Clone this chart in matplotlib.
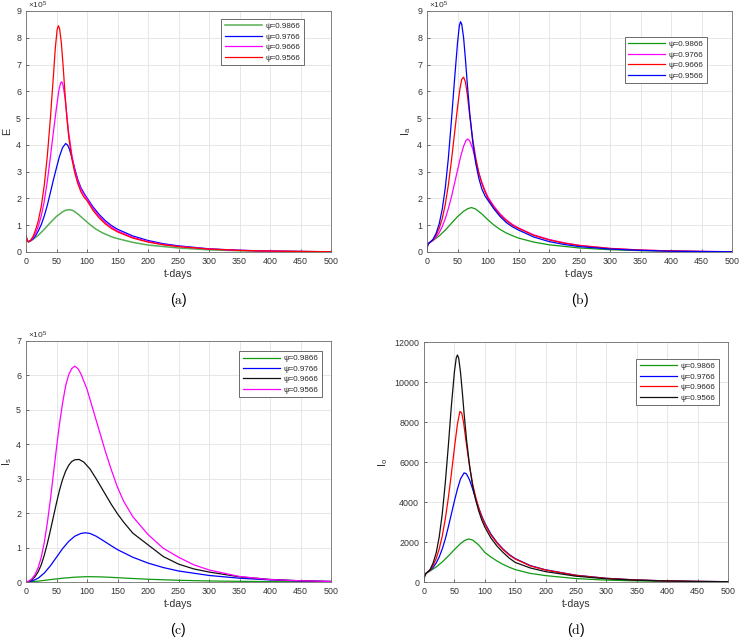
import numpy as np
import matplotlib
matplotlib.use('Agg')
import matplotlib.pyplot as plt

plt.rcParams['font.family'] = ['Liberation Sans', 'DejaVu Sans']
plt.rcParams['mathtext.default'] = 'regular'

psi_labels = ['ψ=0.9866', 'ψ=0.9766', 'ψ=0.9666', 'ψ=0.9566']

# (a) E, in units of 1e5
t_a_red = [0, 2, 4, 8, 12, 16, 20, 25, 30, 35, 40, 45, 48, 51, 53, 55, 58, 61, 64, 67, 70, 75, 80, 85, 90, 95, 100,
           110, 120, 130, 140, 150, 175, 200, 225, 250, 300, 350, 400, 450, 500]
e_red = [0.6, 0.42, 0.38, 0.45, 0.6, 0.85, 1.15, 1.7, 2.5, 3.6, 5.0, 6.6, 7.6, 8.3, 8.45, 8.35, 7.8, 6.9, 5.9, 5.0, 4.3,
         3.5, 2.95, 2.55, 2.25, 2.05, 1.92, 1.55, 1.27, 1.05, 0.88, 0.75, 0.52, 0.37, 0.27, 0.2, 0.11, 0.06, 0.035, 0.02, 0.01]
t_a_mag = [0, 2, 4, 8, 12, 16, 20, 25, 30, 35, 40, 45, 50, 54, 57, 59, 61, 64, 67, 70, 75, 80, 85, 90, 95, 100,
           110, 120, 130, 140, 150, 175, 200, 225, 250, 300, 350, 400, 450, 500]
e_mag = [0.6, 0.42, 0.38, 0.43, 0.55, 0.72, 0.95, 1.35, 1.9, 2.65, 3.55, 4.5, 5.4, 6.05, 6.33, 6.35, 6.2, 5.75, 5.1, 4.45,
         3.65, 3.05, 2.65, 2.35, 2.15, 1.98, 1.62, 1.33, 1.1, 0.93, 0.79, 0.55, 0.39, 0.28, 0.21, 0.11, 0.06, 0.035, 0.02, 0.01]
t_a_blue = [0, 2, 4, 8, 12, 16, 20, 25, 30, 35, 40, 45, 50, 55, 60, 65, 68, 71, 75, 80, 85, 90, 95, 100,
            110, 120, 130, 140, 150, 175, 200, 225, 250, 300, 350, 400, 450, 500]
e_blue = [0.6, 0.42, 0.38, 0.42, 0.5, 0.62, 0.78, 1.02, 1.35, 1.75, 2.22, 2.7, 3.15, 3.58, 3.9, 4.05, 4.0, 3.85, 3.55,
          3.1, 2.7, 2.4, 2.2, 2.02, 1.68, 1.4, 1.17, 0.99, 0.85, 0.6, 0.43, 0.31, 0.23, 0.12, 0.065, 0.035, 0.02, 0.01]
t_a_green = [0, 2, 4, 10, 20, 30, 40, 50, 60, 65, 71, 77, 85, 95, 105, 115, 125, 140, 150, 175, 200, 250, 300, 350, 400, 450, 500]
e_green = [0.6, 0.42, 0.38, 0.45, 0.62, 0.85, 1.1, 1.33, 1.5, 1.56, 1.58, 1.55, 1.42, 1.22, 1.02, 0.85, 0.72, 0.57, 0.5,
           0.36, 0.26, 0.15, 0.08, 0.045, 0.025, 0.015, 0.008]

# (b) Ia, in units of 1e5
t_b_blue = [0, 1, 3, 6, 10, 15, 20, 25, 30, 35, 40, 45, 50, 53, 55, 57, 60, 63, 66, 70, 75, 80, 85, 90, 95, 100,
            110, 120, 130, 140, 150, 175, 200, 225, 250, 300, 350, 400, 450, 500]
ia_blue = [0.1, 0.25, 0.33, 0.38, 0.48, 0.7, 1.05, 1.6, 2.4, 3.5, 4.9, 6.4, 7.8, 8.45, 8.6, 8.5, 8.0, 7.2, 6.3, 5.2, 4.1,
           3.3, 2.75, 2.35, 2.1, 1.93, 1.6, 1.32, 1.1, 0.94, 0.82, 0.56, 0.39, 0.28, 0.2, 0.11, 0.06, 0.03, 0.018, 0.01]
t_b_red = [0, 1, 3, 6, 10, 15, 20, 25, 30, 35, 40, 45, 50, 54, 57, 60, 63, 66, 70, 75, 80, 85, 90, 95, 100,
           110, 120, 130, 140, 150, 175, 200, 225, 250, 300, 350, 400, 450, 500]
ia_red = [0.1, 0.25, 0.33, 0.38, 0.46, 0.63, 0.88, 1.25, 1.78, 2.5, 3.4, 4.4, 5.4, 6.1, 6.45, 6.53, 6.35, 5.9, 5.1, 4.2,
          3.5, 2.95, 2.55, 2.25, 2.0, 1.65, 1.38, 1.17, 1.0, 0.88, 0.62, 0.45, 0.33, 0.24, 0.13, 0.07, 0.04, 0.02, 0.01]
t_b_mag = [0, 1, 3, 6, 10, 15, 20, 25, 30, 35, 40, 45, 50, 55, 60, 64, 67, 70, 75, 80, 85, 90, 95, 100,
           110, 120, 130, 140, 150, 175, 200, 225, 250, 300, 350, 400, 450, 500]
ia_mag = [0.1, 0.25, 0.33, 0.38, 0.44, 0.56, 0.72, 0.95, 1.25, 1.62, 2.05, 2.55, 3.05, 3.55, 3.95, 4.17, 4.22, 4.15, 3.85,
          3.4, 2.95, 2.6, 2.3, 2.05, 1.7, 1.42, 1.2, 1.03, 0.9, 0.64, 0.47, 0.34, 0.25, 0.135, 0.075, 0.04, 0.022, 0.012]
t_b_green = [0, 1, 3, 6, 10, 20, 30, 40, 50, 60, 67, 73, 80, 90, 100, 110, 120, 130, 140, 150, 175, 200, 250, 300, 350, 400, 450, 500]
ia_green = [0.1, 0.25, 0.33, 0.38, 0.43, 0.6, 0.82, 1.07, 1.32, 1.52, 1.62, 1.66, 1.6, 1.42, 1.2, 1.0, 0.84, 0.71, 0.61,
            0.52, 0.37, 0.27, 0.15, 0.085, 0.05, 0.028, 0.015, 0.008]

# (c) Is, in units of 1e5
t_c_mag = [0, 5, 10, 15, 20, 25, 30, 35, 40, 45, 50, 55, 60, 65, 70, 75, 80, 85, 90, 100, 110, 120, 130, 140, 150,
           160, 175, 200, 225, 250, 275, 300, 350, 400, 450, 500]
is_mag = [0, 0.03, 0.1, 0.22, 0.42, 0.72, 1.15, 1.72, 2.4, 3.15, 3.9, 4.6, 5.2, 5.7, 6.02, 6.2, 6.27, 6.2, 6.05, 5.6, 5.0,
          4.4, 3.8, 3.25, 2.75, 2.35, 1.9, 1.38, 0.98, 0.72, 0.5, 0.35, 0.16, 0.07, 0.035, 0.015]
t_c_black = [0, 5, 10, 15, 20, 25, 30, 35, 40, 45, 50, 55, 60, 65, 70, 75, 80, 87, 95, 105, 115, 125, 140, 150, 160,
             175, 200, 225, 250, 275, 300, 350, 400, 450, 500]
is_black = [0, 0.02, 0.07, 0.16, 0.3, 0.5, 0.78, 1.12, 1.5, 1.9, 2.3, 2.67, 2.98, 3.22, 3.39, 3.5, 3.55, 3.56, 3.48, 3.28,
            3.0, 2.7, 2.25, 1.98, 1.74, 1.42, 1.08, 0.74, 0.52, 0.38, 0.29, 0.15, 0.075, 0.035, 0.015]
t_c_blue = [0, 10, 20, 30, 40, 50, 60, 70, 80, 90, 97, 105, 115, 125, 140, 150, 175, 200, 225, 250, 300, 350, 400, 450, 500]
is_blue = [0, 0.03, 0.11, 0.26, 0.47, 0.72, 0.97, 1.18, 1.33, 1.41, 1.43, 1.41, 1.33, 1.22, 1.05, 0.94, 0.72, 0.55, 0.42,
           0.32, 0.19, 0.11, 0.06, 0.03, 0.015]
t_c_green = [0, 20, 40, 60, 80, 100, 120, 140, 160, 200, 250, 300, 400, 500]
is_green = [0, 0.025, 0.07, 0.11, 0.14, 0.155, 0.15, 0.135, 0.115, 0.08, 0.05, 0.03, 0.01, 0.005]

# (d) Io
t_d_black = [0, 1, 3, 6, 10, 15, 20, 25, 30, 35, 40, 45, 50, 53, 55, 57, 60, 63, 66, 70, 75, 80, 85, 90, 95, 100,
             110, 120, 130, 140, 150, 175, 200, 250, 300, 350, 400, 450, 500]
io_black = [100, 300, 420, 500, 620, 950, 1450, 2250, 3400, 4950, 6800, 8800, 10500, 11200, 11350, 11200, 10500, 9500,
            8400, 7100, 5800, 4800, 4100, 3550, 3100, 2750, 2200, 1800, 1480, 1200, 980, 700, 520, 290, 160, 90, 50, 28, 15]
t_d_red = [0, 1, 3, 6, 10, 15, 20, 25, 30, 35, 40, 45, 50, 55, 59, 62, 65, 68, 72, 76, 80, 85, 90, 95, 100,
           110, 120, 130, 140, 150, 175, 200, 250, 300, 350, 400, 450, 500]
io_red = [100, 300, 420, 500, 600, 830, 1170, 1650, 2300, 3150, 4200, 5400, 6700, 7900, 8530, 8450, 8000, 7300, 6400,
          5600, 4900, 4250, 3700, 3250, 2900, 2350, 1950, 1620, 1350, 1150, 800, 600, 330, 180, 100, 55, 30, 16]
t_d_blue = [0, 1, 3, 6, 10, 15, 20, 25, 30, 35, 40, 45, 50, 55, 60, 66, 70, 75, 80, 85, 90, 95, 100,
            110, 120, 130, 140, 150, 175, 200, 250, 300, 350, 400, 450, 500]
io_blue = [100, 300, 420, 500, 580, 730, 950, 1250, 1650, 2150, 2750, 3400, 4050, 4650, 5150, 5460, 5400, 5100, 4650,
           4150, 3700, 3300, 2950, 2400, 1980, 1650, 1380, 1170, 820, 610, 340, 185, 100, 55, 30, 16]
t_d_green = [0, 1, 3, 6, 10, 20, 30, 40, 50, 60, 67, 73, 80, 90, 100, 110, 120, 130, 140, 150, 175, 200, 250, 300, 350, 400, 450, 500]
io_green = [100, 300, 420, 490, 550, 750, 1000, 1300, 1620, 1920, 2080, 2150, 2100, 1850, 1480, 1250, 1050, 880, 740,
            620, 430, 320, 170, 95, 55, 30, 17, 10]

GREEN = '#119a11'
W, H = 740, 639
fig = plt.figure(figsize=(7.4, 6.39), dpi=100)


def make_ax(x0, y0, x1, y1):
    # pixel box -> figure coords
    return fig.add_axes([x0 / W, 1 - y1 / H, (x1 - x0) / W, (y1 - y0) / H])


def style(ax, ymax, ystep, ylabel, caption, sci, ypad=3):
    ax.set_xlim(0, 500)
    ax.set_ylim(0, ymax)
    ax.set_xticks(np.arange(0, 501, 50))
    ax.set_yticks(np.arange(0, ymax + 1, ystep))
    ax.grid(True, color='#e3e3e3', linewidth=0.6)
    ax.set_axisbelow(True)
    ax.tick_params(direction='in', length=2.5, width=0.5, labelsize=6.4,
                   colors='#333333', pad=3.5)
    for s in ax.spines.values():
        s.set_color('#6e6e6e')
        s.set_linewidth(0.6)
    ax.set_xlabel('t-days', fontsize=7.6, color='#333333', labelpad=2.5)
    ax.set_ylabel(ylabel, fontsize=7.8, color='#333333', labelpad=ypad)
    if sci:
        ax.text(0.008, 1.0, r'$\times10^{5}$', transform=ax.transAxes,
                fontsize=6.0, color='#333333', va='bottom', ha='left')
    ax.text(0.5, -0.2, r'$(\mathrm{' + caption + '})$', transform=ax.transAxes,
            ha='center', va='center', fontsize=9.8, math_fontfamily='cm')


def legend(ax, right, top):
    lg = ax.legend(loc='upper right', bbox_to_anchor=(right, top), borderaxespad=0,
                   fontsize=5.8, handlelength=4.6, handletextpad=0.4,
                   labelspacing=0.35, borderpad=0.45, fancybox=False,
                   edgecolor='#555555', framealpha=1)
    lg.get_frame().set_linewidth(0.6)
    for txt in lg.get_texts():
        txt.set_color('#262626')


# (a)
ax = make_ax(26, 11, 331, 252)
ax.plot(t_a_green, e_green, color='#55b055', lw=1.1, label=psi_labels[0])
ax.plot(t_a_blue, e_blue, color='#0000ff', lw=0.9, label=psi_labels[1])
ax.plot(t_a_mag, e_mag, color='#ff00ff', lw=0.9, label=psi_labels[2])
ax.plot(t_a_red, e_red, color='#ff0000', lw=0.9, label=psi_labels[3])
style(ax, 9, 1, 'E', 'a', True)
legend(ax, 0.911, 0.967)

# (b)
ax = make_ax(427, 11, 732, 252)
ax.plot(t_b_green, ia_green, color=GREEN, lw=0.9, label=psi_labels[0])
ax.plot(t_b_mag, ia_mag, color='#ff00ff', lw=0.9, label=psi_labels[1])
ax.plot(t_b_red, ia_red, color='#ff0000', lw=0.9, label=psi_labels[2])
ax.plot(t_b_blue, ia_blue, color='#0000ff', lw=0.9, label=psi_labels[3])
style(ax, 9, 1, 'I$_a$', 'b', True)
legend(ax, 0.918, 0.892)

# (c)
ax = make_ax(26, 341, 331, 582)
ax.plot(t_c_green, is_green, color=GREEN, lw=0.9, label=psi_labels[0])
ax.plot(t_c_blue, is_blue, color='#0000ff', lw=0.9, label=psi_labels[1])
ax.plot(t_c_black, is_black, color='#111111', lw=0.9, label=psi_labels[2])
ax.plot(t_c_mag, is_mag, color='#ff00ff', lw=0.9, label=psi_labels[3])
style(ax, 7, 1, 'I$_s$', 'c', True, ypad=1.5)
legend(ax, 0.97, 0.958)

# (d)
ax = make_ax(424, 342, 728, 582)
ax.plot(t_d_green, io_green, color=GREEN, lw=0.9, label=psi_labels[0])
ax.plot(t_d_blue, io_blue, color='#0000ff', lw=0.9, label=psi_labels[1])
ax.plot(t_d_red, io_red, color='#ff0000', lw=0.9, label=psi_labels[2])
ax.plot(t_d_black, io_black, color='#111111', lw=0.9, label=psi_labels[3])
style(ax, 12000, 2000, 'I$_o$', 'd', False)
legend(ax, 0.97, 0.929)

fig.savefig('out.png', dpi=100)
